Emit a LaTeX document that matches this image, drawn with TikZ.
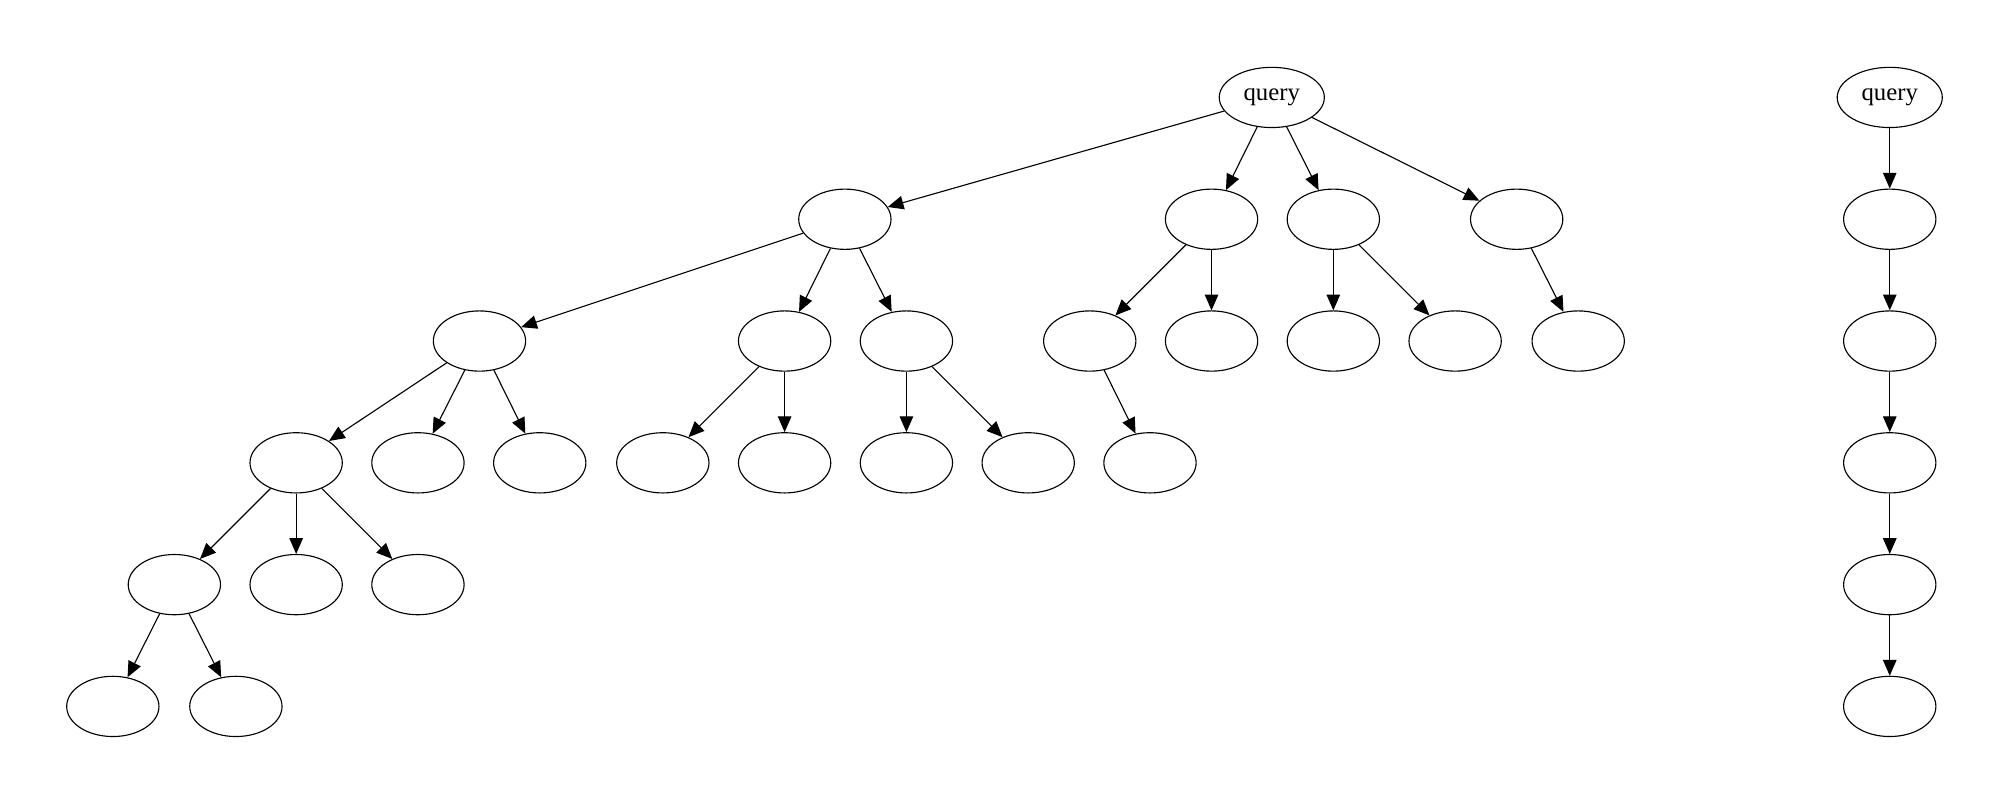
\documentclass[tikz,border=0pt]{standalone}
\usepackage{fontspec}
\setmainfont{Liberation Serif}
\usetikzlibrary{arrows.meta,shapes.geometric}
\tikzset{
  nd/.style={draw, ellipse, line width=0.5pt, minimum width=1.44cm, minimum height=0.94cm, inner sep=0pt, font=\fontsize{11}{13}\selectfont},
  qnd/.style={nd, minimum width=1.64cm},
  edge/.style={-{Triangle[length=7pt,width=6pt]}, line width=0.5pt}
}
\begin{document}
\begin{tikzpicture}[x=0.02cm,y=-0.02cm]
  \useasboundingbox (0,0) rectangle (1560,626);

  % left tree
  \node[qnd] (q) at (992,76) {query};
  \node[nd] (a) at (659,171) {};
  \node[nd] (b) at (945,171) {};
  \node[nd] (c) at (1040,171) {};
  \node[nd] (d) at (1183,171) {};
  \node[nd] (a1) at (374,266) {};
  \node[nd] (a2) at (612,266) {};
  \node[nd] (a3) at (707,266) {};
  \node[nd] (b1) at (850,266) {};
  \node[nd] (b2) at (945,266) {};
  \node[nd] (c1) at (1040,266) {};
  \node[nd] (c2) at (1135,266) {};
  \node[nd] (d1) at (1231,266) {};
  \node[nd] (a11) at (231,361) {};
  \node[nd] (a12) at (326,361) {};
  \node[nd] (a13) at (421,361) {};
  \node[nd] (a21) at (517,361) {};
  \node[nd] (a22) at (612,361) {};
  \node[nd] (a31) at (707,361) {};
  \node[nd] (a32) at (802,361) {};
  \node[nd] (b11) at (897,361) {};
  \node[nd] (a111) at (136,456) {};
  \node[nd] (a112) at (231,456) {};
  \node[nd] (a113) at (326,456) {};
  \node[nd] (a1111) at (88,551) {};
  \node[nd] (a1112) at (184,551) {};

  \foreach \s/\t in {q/a,q/b,q/c,q/d,a/a1,a/a2,a/a3,b/b1,b/b2,c/c1,c/c2,d/d1,
                     a1/a11,a1/a12,a1/a13,a2/a21,a2/a22,a3/a31,a3/a32,b1/b11,
                     a11/a111,a11/a112,a11/a113,a111/a1111,a111/a1112}
    \draw[edge] (\s) -- (\t);

  % right chain
  \node[qnd] (r0) at (1474,76) {query};
  \foreach \i/\y in {1/171,2/266,3/361,4/456,5/551}
    \node[nd] (r\i) at (1474,\y) {};
  \foreach \i [evaluate=\i as \j using int(\i-1)] in {1,...,5}
    \draw[edge] (r\j) -- (r\i);
\end{tikzpicture}
\end{document}
